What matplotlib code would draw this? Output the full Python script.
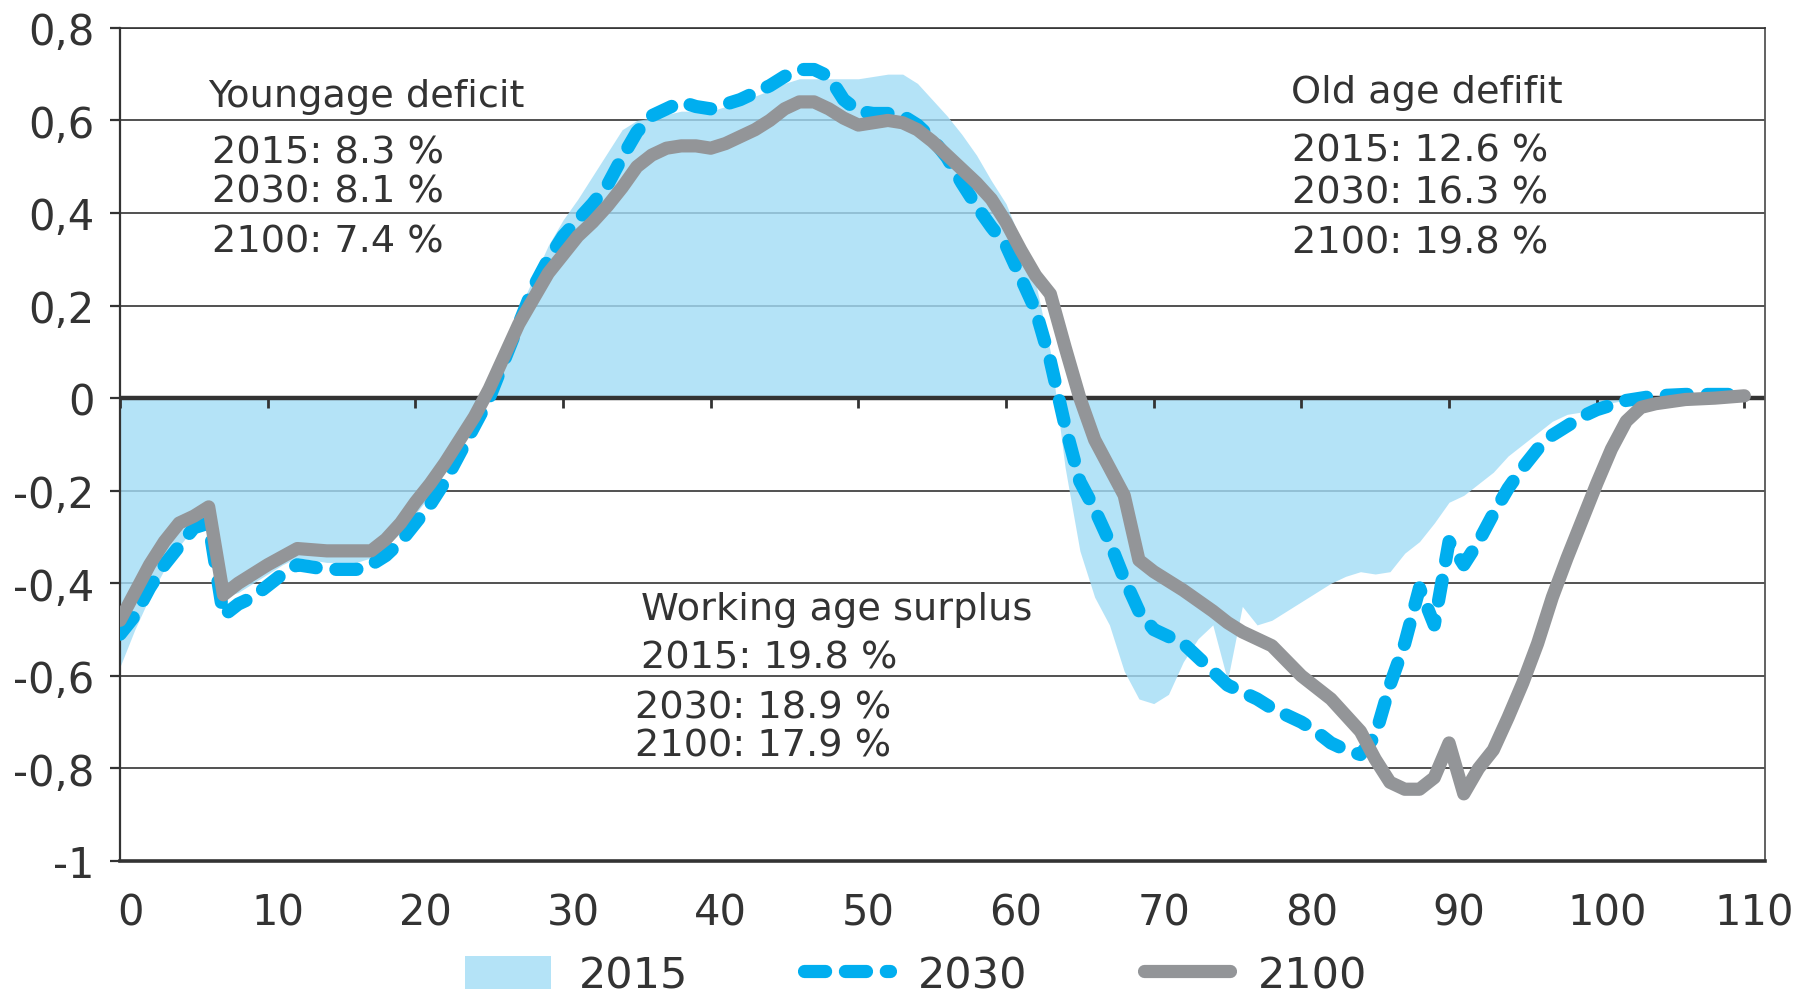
import numpy as np
import matplotlib
matplotlib.use("Agg")
import matplotlib.pyplot as plt
import matplotlib.transforms as mtransforms
from matplotlib.patches import Patch
from matplotlib.lines import Line2D

plt.rcParams["font.family"] = ["DejaVu Sans"]

# ---- data ----------------------------------------------------------------
ages_2015 = [0, 1, 2, 3, 4, 5, 6, 7, 8, 9, 10, 11, 12, 13, 14, 15, 16, 17, 18, 19,
             20, 21, 22, 23, 24, 25, 26, 27, 28, 29, 30, 31, 32, 33, 34, 35, 36, 38,
             40, 42, 44, 45, 46, 47, 48, 49, 50, 51, 52, 53, 54, 55, 56, 57, 58, 59,
             60, 61, 62, 63, 64, 65, 66, 67, 68, 69, 70, 71, 72, 73, 74, 75, 76, 77,
             78, 79, 80, 81, 82, 83, 84, 85, 86, 87, 88, 89, 90, 91, 92, 93, 94, 95,
             96, 97, 98, 99, 100, 101, 102, 104, 110]
vals_2015 = [-0.58, -0.50, -0.43, -0.37, -0.32, -0.28, -0.26, -0.43, -0.42, -0.40,
             -0.38, -0.36, -0.345, -0.35, -0.355, -0.355, -0.355, -0.345, -0.32, -0.29,
             -0.25, -0.21, -0.16, -0.10, -0.04, 0.03, 0.11, 0.19, 0.26, 0.33, 0.385,
             0.43, 0.48, 0.53, 0.58, 0.60, 0.605, 0.62, 0.62, 0.64, 0.665, 0.68, 0.69,
             0.69, 0.69, 0.69, 0.69, 0.695, 0.70, 0.70, 0.68, 0.645, 0.61, 0.57, 0.525,
             0.47, 0.42, 0.34, 0.25, 0.10, -0.15, -0.33, -0.43, -0.49, -0.59, -0.65,
             -0.66, -0.64, -0.57, -0.52, -0.49, -0.61, -0.45, -0.49, -0.48, -0.46,
             -0.44, -0.42, -0.40, -0.385, -0.375, -0.38, -0.375, -0.335, -0.31, -0.27,
             -0.225, -0.21, -0.185, -0.16, -0.125, -0.10, -0.075, -0.05, -0.035, -0.03,
             -0.02, -0.01, -0.004, 0.0, 0.0]

ages_2030 = [0, 1, 2, 3, 4, 5, 6, 7, 8, 9, 10, 11, 12, 13, 14, 15, 16, 17, 18, 19,
             20, 21, 22, 23, 24, 25, 26, 27, 28, 29, 30, 31, 32, 33, 34, 35, 36, 37,
             38, 39, 40, 41, 42, 43, 44, 45, 46, 47, 48, 49, 50, 51, 52, 53, 54, 55,
             56, 57, 58, 59, 60, 61, 62, 63, 64, 65, 66, 67, 68, 69, 70, 71, 72, 73,
             74, 75, 76, 77, 78, 79, 80, 81, 82, 83, 84, 85, 86, 87, 88, 89, 90, 91,
             92, 93, 94, 95, 96, 97, 98, 99, 100, 101, 102, 103, 104, 106, 110]
vals_2030 = [-0.51, -0.47, -0.41, -0.36, -0.32, -0.28, -0.27, -0.47, -0.445, -0.43,
             -0.405, -0.38, -0.36, -0.365, -0.37, -0.37, -0.37, -0.36, -0.34, -0.31,
             -0.27, -0.23, -0.18, -0.12, -0.06, 0.0, 0.08, 0.16, 0.24, 0.30, 0.35,
             0.385, 0.42, 0.46, 0.52, 0.575, 0.61, 0.625, 0.64, 0.63, 0.625, 0.635,
             0.645, 0.66, 0.675, 0.695, 0.71, 0.71, 0.695, 0.645, 0.62, 0.615, 0.615,
             0.61, 0.59, 0.56, 0.52, 0.465, 0.415, 0.37, 0.33, 0.26, 0.19, 0.08, -0.06,
             -0.18, -0.24, -0.31, -0.39, -0.46, -0.50, -0.515, -0.53, -0.56, -0.59,
             -0.62, -0.635, -0.65, -0.67, -0.685, -0.70, -0.72, -0.745, -0.76, -0.77,
             -0.73, -0.62, -0.53, -0.41, -0.49, -0.31, -0.36, -0.31, -0.25, -0.195,
             -0.15, -0.11, -0.08, -0.06, -0.04, -0.025, -0.015, -0.005, 0.0, 0.005,
             0.008, 0.008]

ages_2100 = [0, 1, 2, 3, 4, 5, 6, 7, 8, 10, 12, 14, 16, 17, 18, 19, 20, 21, 22, 23,
             24, 25, 26, 27, 28, 29, 30, 31, 32, 33, 34, 35, 36, 37, 38, 39, 40, 41,
             42, 43, 44, 45, 46, 47, 48, 49, 50, 51, 52, 53, 54, 55, 56, 57, 58, 59,
             60, 61, 62, 63, 64, 65, 66, 67, 68, 69, 70, 72, 74, 75, 76, 77, 78, 80,
             82, 84, 85, 86, 87, 88, 89, 90, 91, 92, 93, 94, 95, 96, 97, 98, 99, 100,
             101, 102, 103, 104, 106, 108, 110]
vals_2100 = [-0.48, -0.42, -0.36, -0.31, -0.27, -0.255, -0.235, -0.425, -0.40, -0.36,
             -0.325, -0.33, -0.33, -0.33, -0.305, -0.27, -0.225, -0.185, -0.14, -0.09,
             -0.04, 0.02, 0.09, 0.16, 0.215, 0.27, 0.31, 0.35, 0.38, 0.415, 0.455, 0.50,
             0.525, 0.54, 0.545, 0.545, 0.54, 0.55, 0.565, 0.58, 0.60, 0.625, 0.64,
             0.64, 0.625, 0.605, 0.59, 0.595, 0.60, 0.595, 0.58, 0.555, 0.525, 0.495,
             0.465, 0.43, 0.38, 0.32, 0.265, 0.225, 0.11, 0.0, -0.09, -0.15, -0.21,
             -0.35, -0.375, -0.415, -0.46, -0.485, -0.505, -0.52, -0.535, -0.60, -0.65,
             -0.72, -0.78, -0.83, -0.845, -0.845, -0.82, -0.745, -0.855, -0.80, -0.76,
             -0.69, -0.615, -0.53, -0.43, -0.345, -0.265, -0.185, -0.11, -0.05, -0.02,
             -0.012, -0.003, 0.0, 0.005]

x_ticks = [0, 10, 20, 30, 40, 50, 60, 70, 80, 90, 100, 110]
y_ticks = [-1, -0.8, -0.6, -0.4, -0.2, 0, 0.2, 0.4, 0.6, 0.8]
y_tick_labels = ["-1", "-0,8", "-0,6", "-0,4", "-0,2", "0", "0,2", "0,4", "0,6", "0,8"]

series_labels = ["2015", "2030", "2100"]
young_lines = ["Youngage deficit", "2015: 8.3 %", "2030: 8.1 %", "2100: 7.4 %"]
old_lines = ["Old age defifit", "2015: 12.6 %", "2030: 16.3 %", "2100: 19.8 %"]
work_lines = ["Working age surplus", "2015: 19.8 %", "2030: 18.9 %", "2100: 17.9 %"]

# ---- styling ---------------------------------------------------------------
FILL = "#A2DCF6"      # drawn with alpha so the grid shows through like the print
BLUE = "#00AEEF"
GREY = "#939598"
INK = "#333333"
LW = 9.5

fig = plt.figure(figsize=(18.14, 9.95), dpi=100)
ax = fig.add_axes([0.0662, 0.1337, 0.9068, 0.8373])

ax.set_xlim(0, 111.4)
ax.set_ylim(-1, 0.8)
ax.set_axisbelow(True)
ax.yaxis.grid(True, color=INK, linewidth=1.2)

ax.fill_between(ages_2015, vals_2015, 0, color=FILL, alpha=0.8, linewidth=0, zorder=1)
ax.axhline(0, color=INK, linewidth=3.2, zorder=2)
ax.plot(x_ticks, np.zeros(len(x_ticks)), linestyle="none", marker=3, markersize=7.5,
        markeredgewidth=2, color=INK, zorder=2)

ax.plot(ages_2030, vals_2030, color=BLUE, linewidth=LW, dashes=(1.6, 1.5),
        dash_capstyle="round", dash_joinstyle="round", zorder=3)
ax.plot(ages_2100, vals_2100, color=GREY, linewidth=LW,
        solid_capstyle="round", solid_joinstyle="round", zorder=4)

# axes frame
for side, lw, col in [("left", 1.6, INK), ("right", 1.3, "#555555"),
                      ("top", 1.2, INK), ("bottom", 2.6, INK)]:
    ax.spines[side].set_linewidth(lw)
    ax.spines[side].set_color(col)

ax.set_yticks(y_ticks)
ax.set_yticklabels(y_tick_labels)
ax.tick_params(axis="y", direction="out", length=7.5, width=1.6, color=INK,
               labelsize=30, labelcolor=INK, pad=11)

ax.set_xticks(x_ticks)
ax.set_xticklabels([str(t) for t in x_ticks])
ax.tick_params(axis="x", length=0, labelsize=30, labelcolor=INK, pad=22)
shift = mtransforms.ScaledTranslation(10 / 100, 0, fig.dpi_scale_trans)
for lab in ax.get_xticklabels():
    lab.set_transform(lab.get_transform() + shift)

# annotations
def put_block(lines, xs, ys):
    for txt, x, y in zip(lines, xs, ys):
        ax.text(x, y, txt, fontsize=27.5, color=INK, ha="left", va="baseline",
                zorder=5)

put_block(young_lines, [5.95, 6.2, 6.2, 6.2], [0.632, 0.509, 0.425, 0.317])
put_block(old_lines, [79.3, 79.35, 79.35, 79.35], [0.639, 0.514, 0.423, 0.315])
put_block(work_lines, [35.3, 35.3, 34.9, 34.9], [-0.4775, -0.582, -0.691, -0.773])

handles = [
    Patch(facecolor=FILL, alpha=0.8, edgecolor="none"),
    Line2D([], [], color=BLUE, linewidth=LW, dashes=(1.6, 1.5), dash_capstyle="round"),
    Line2D([], [], color=GREY, linewidth=LW, solid_capstyle="round"),
]
fig.legend(handles, series_labels, loc="center", bbox_to_anchor=(0.505, 0.019),
           ncol=3, frameon=False, fontsize=31, labelcolor=INK,
           handlelength=2.0, handleheight=0.8, handletextpad=0.65,
           columnspacing=2.7, borderpad=0, borderaxespad=0)

fig.savefig("out.png", dpi=100)
